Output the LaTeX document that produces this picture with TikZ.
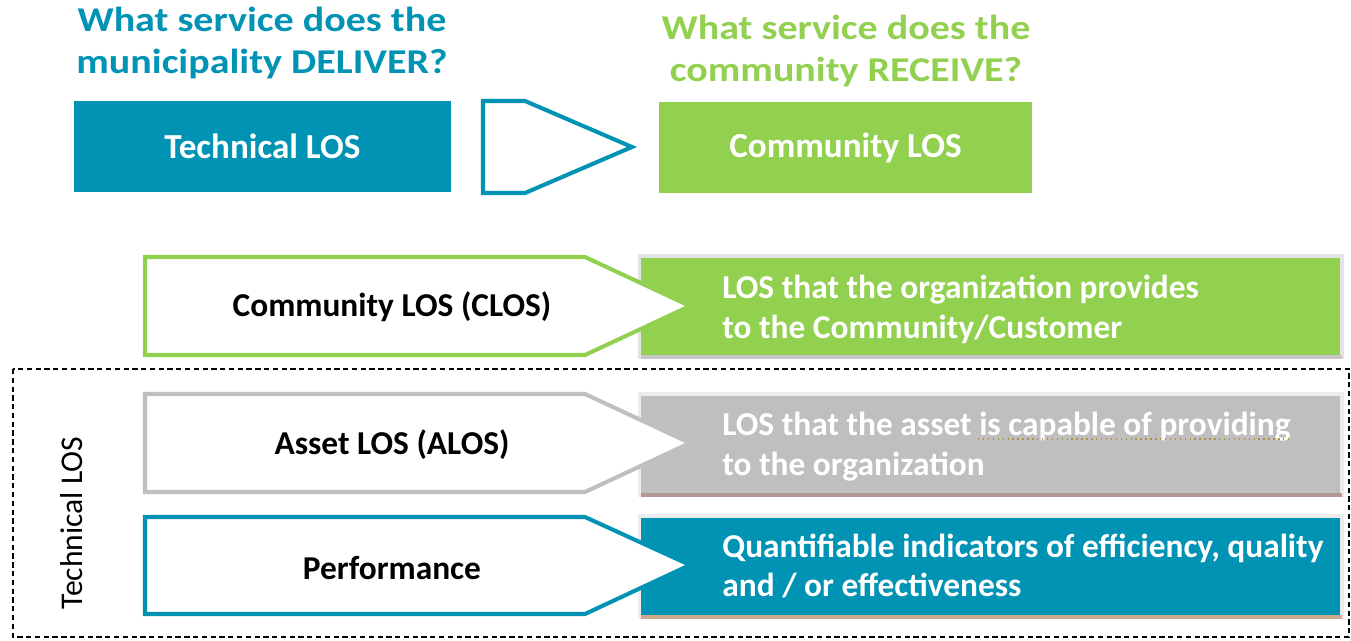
\documentclass[tikz,border=0pt]{standalone}
\usepackage{fontspec}
\setmainfont{Carlito}
\newfontfamily\widefont[FakeStretch=1.15]{Carlito}
\usetikzlibrary{positioning}
\definecolor{losteal}{RGB}{0,147,180}
\definecolor{losgreen}{RGB}{146,208,80}
\definecolor{losgray}{RGB}{191,191,191}
\definecolor{shadowrose}{RGB}{180,150,150}
\definecolor{shadowtan}{RGB}{205,170,140}
\definecolor{squiggle}{RGB}{175,145,70}

\begin{document}
\begin{tikzpicture}[x=0.02cm,y=-0.02cm]
\tikzstyle{title}=[font=\widefont\bfseries\fontsize{19.8}{23.5}\selectfont,align=center,inner sep=0pt]
\tikzstyle{topbox}=[minimum height=1.82cm,inner sep=0pt,text=white,font=\bfseries\fontsize{20}{22}\selectfont]
\tikzstyle{sidebox}=[minimum width=13.98cm,minimum height=1.94cm,inner sep=0pt]
\tikzstyle{sidetext}=[anchor=west,align=left,inner sep=0pt,text=white,font=\bfseries\fontsize{19}{22.7}\selectfont]
\tikzstyle{rowlabel}=[inner sep=0pt,font=\bfseries\fontsize{19}{22}\selectfont]

\useasboundingbox (0,0) rectangle (1351,641);

% headings
\node[title,text=losteal] (deliver) at (262,43) {What service does the\\municipality DELIVER?};
\node[title,text=losgreen] (receive) at (846,51) {What service does the\\community RECEIVE?};

% top row
\node[topbox,fill=losteal,minimum width=7.54cm] (tech) at (262.5,146.5) {Technical LOS};
\node[topbox,fill=losgreen,minimum width=7.46cm] (comm) at (845.5,147.5) {Community LOS};
\draw[losteal,line width=2.3pt,fill=white] (483,101) -- (525,101) -- (632,147) -- (525,193) -- (483,193) -- cycle;

% technical frame
\draw[dash pattern=on 3pt off 2pt,line width=0.9pt] (13,369) rectangle (1349,637);
\node[rotate=90,inner sep=0pt,font=\fontsize{18}{20}\selectfont] (techside) at (72,523) {Technical LOS};

% right boxes
\fill[gray!22] (638,254) rectangle (1344,359);
\fill[gray!45] (641,355) rectangle (1342,359);
\node[sidebox,fill=losgreen] (clostxt) at (990.5,306.5) {};
\fill[gray!15] (638,392) rectangle (1344,497);
\fill[shadowrose] (641,493) rectangle (1342,497);
\node[sidebox,fill=losgray] (alostxt) at (990.5,444.5) {};
\fill[gray!15] (638,514) rectangle (1344,619);
\fill[shadowtan] (641,615) rectangle (1342,619);
\node[sidebox,fill=losteal] (perftxt) at (990.5,566.5) {};

\node[sidetext] (closdesc) at (722,309) {LOS that the organization provides\\to the Community/Customer};
\node[sidetext] (alosdesc) at (722,447) {LOS that the asset is capable of providing\\to the organization};
\node[sidetext] (perfdesc) at (722,566) {Quantifiable indicators of efficiency, quality\\and / or effectiveness};
\draw[squiggle,dotted,line width=0.8pt] (978,439) -- (1288,439);

% left arrows
\draw[losgreen,line width=2.3pt,fill=white] (145,257) -- (585,257) -- (690,306) -- (585,355) -- (145,355) -- cycle;
\draw[losgray,line width=2.3pt,fill=white] (145,394) -- (585,394) -- (690,443) -- (585,492) -- (145,492) -- cycle;
\draw[losteal,line width=2.3pt,fill=white] (145,517) -- (585,517) -- (690,565) -- (585,614) -- (145,614) -- cycle;
\node[rowlabel] (clos) at (392,307) {Community LOS (CLOS)};
\node[rowlabel] (alos) at (392,445) {Asset LOS (ALOS)};
\node[rowlabel] (perf) at (392,568) {Performance};
\end{tikzpicture}
\end{document}
